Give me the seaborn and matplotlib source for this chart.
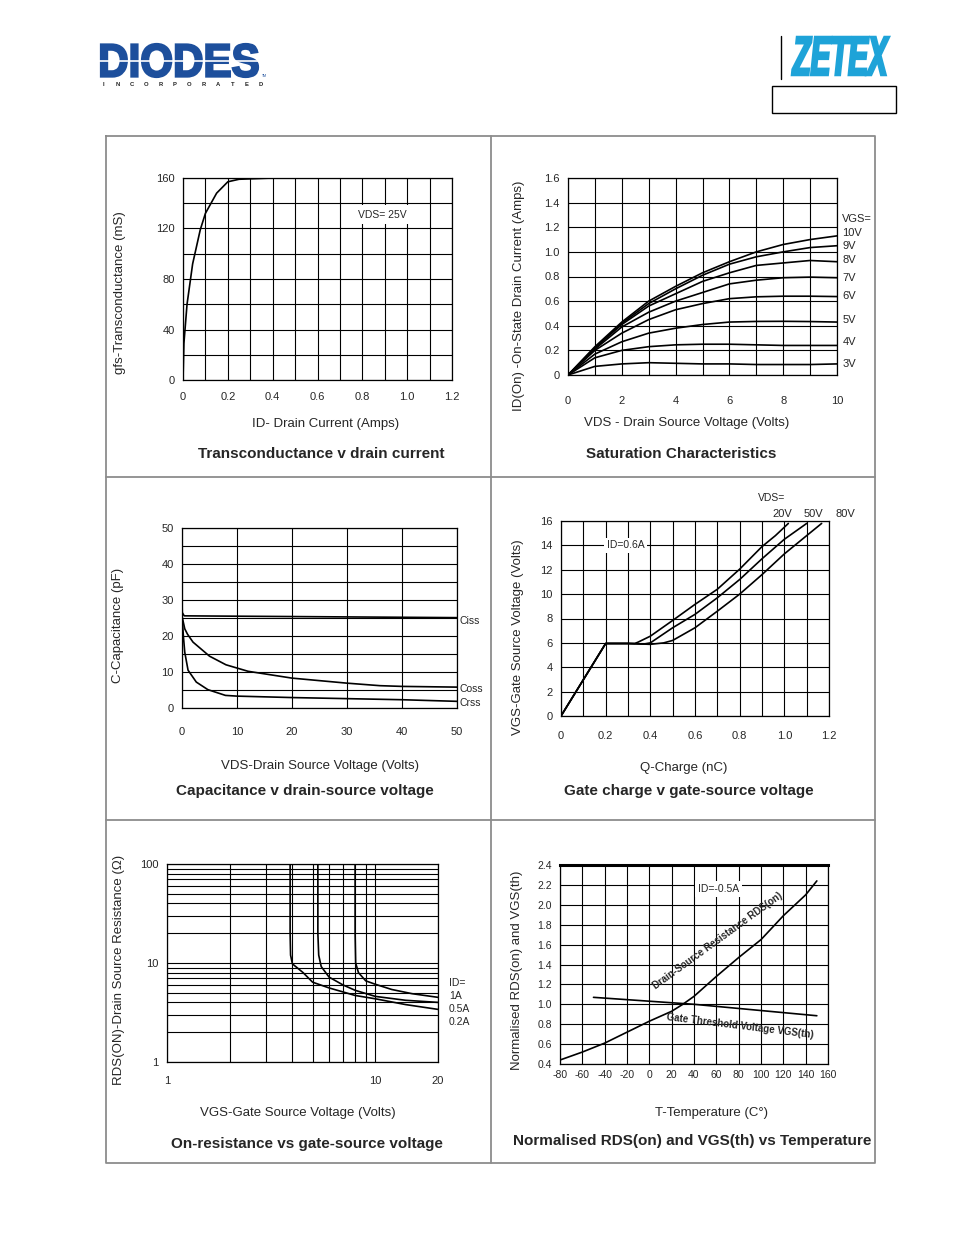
import numpy as np
import pandas as pd
import seaborn as sns
import matplotlib.pyplot as plt
from matplotlib.textpath import TextPath
from matplotlib.patches import PathPatch
from matplotlib.font_manager import FontProperties
from matplotlib.transforms import Affine2D

# ---- data ----
# transconductance vs drain current
gfs_id = [0, 0.004, 0.018, 0.043, 0.077, 0.1, 0.15, 0.2, 0.25, 0.4, 0.6, 0.8, 1.0, 1.2]
gfs_ms = [0, 29, 60, 92, 119, 132, 148, 157, 159, 160, 160, 160, 160, 160]

# saturation characteristics
sat_vds = [0, 1, 2, 3, 4, 5, 6, 7, 8, 9, 10]
sat_names = ["3V", "4V", "5V", "6V", "7V", "8V", "9V", "10V"]
sat_3v = [0, 0.07, 0.09, 0.10, 0.095, 0.09, 0.09, 0.085, 0.085, 0.085, 0.09]
sat_4v = [0, 0.14, 0.20, 0.23, 0.245, 0.25, 0.25, 0.245, 0.24, 0.24, 0.24]
sat_5v = [0, 0.17, 0.27, 0.34, 0.38, 0.41, 0.43, 0.435, 0.436, 0.434, 0.43]
sat_6v = [0, 0.20, 0.34, 0.45, 0.53, 0.58, 0.62, 0.635, 0.64, 0.64, 0.637]
sat_7v = [0, 0.21, 0.39, 0.51, 0.60, 0.67, 0.74, 0.77, 0.79, 0.795, 0.79]
sat_8v = [0, 0.22, 0.41, 0.56, 0.66, 0.76, 0.83, 0.89, 0.91, 0.93, 0.92]
sat_9v = [0, 0.22, 0.42, 0.58, 0.70, 0.81, 0.90, 0.96, 1.00, 1.035, 1.05]
sat_10v = [0, 0.23, 0.43, 0.60, 0.72, 0.83, 0.92, 1.00, 1.06, 1.10, 1.13]
sat_lbl_y = [0.09, 0.27, 0.45, 0.64, 0.79, 0.93, 1.05, 1.15]

# capacitance
ciss_v = [0, 0.05, 0.4, 10, 20, 30, 40, 50]
ciss = [30, 26.5, 25.6, 25.5, 25.4, 25.3, 25.2, 25.1]
coss_v = [0, 0.5, 1, 2, 3, 5, 8, 12, 20, 30, 36, 40, 50]
coss = [25.5, 22, 20.5, 18.3, 17, 14.4, 12, 10.2, 8.3, 6.9, 6.2, 6.0, 5.8]
crss_v = [0, 0.25, 0.5, 1.1, 2.6, 4.7, 7.9, 10, 20, 30, 40, 50]
crss = [25.5, 20, 15.5, 10.5, 7.2, 5.1, 3.5, 3.3, 2.9, 2.6, 2.3, 1.85]

# gate charge
qg_20 = [0, 0.2, 0.33, 0.344, 0.4, 0.5, 0.6, 0.7, 0.8, 0.9, 0.96, 1.018]
vg_20 = [0, 5.95, 5.95, 6.05, 6.55, 7.84, 9.16, 10.4, 12.05, 13.9, 14.8, 15.8]
qg_50 = [0, 0.2, 0.3, 0.37, 0.4, 0.5, 0.6, 0.7, 0.8, 0.9, 1.0, 1.1]
vg_50 = [0, 5.95, 5.95, 5.9, 6.0, 7.24, 8.34, 9.7, 11.2, 12.9, 14.5, 15.8]
qg_80 = [0, 0.2, 0.3, 0.4, 0.46, 0.5, 0.6, 0.7, 0.8, 0.9, 1.0, 1.1, 1.167]
vg_80 = [0, 5.95, 5.95, 5.88, 6.0, 6.2, 7.24, 8.6, 10.0, 11.6, 13.3, 14.8, 15.8]

# on-resistance vs gate-source voltage
ron_vgs_02 = [3.9, 3.9, 3.92, 4.0, 4.5, 5, 6, 7, 8, 10, 14, 20]
ron_02 = [100, 20, 12, 9.8, 8, 6.4, 5.6, 5.1, 4.7, 4.35, 3.8, 3.4]
ron_vgs_05 = [5.3, 5.3, 5.35, 5.5, 6, 7, 8, 10, 14, 20]
ron_05 = [100, 20, 12, 9.2, 7.2, 6.0, 5.3, 4.6, 4.2, 4.0]
ron_vgs_1 = [8, 8, 8.05, 8.3, 9, 10, 12, 15, 20]
ron_1 = [100, 20, 10, 8, 6.6, 6.1, 5.4, 4.9, 4.5]
ron_labels = ["ID=", "1A", "0.5A", "0.2A"]
ron_label_y = [6.28, 4.64, 3.43, 2.54]

# normalised values vs temperature
rds_t = [-80, -60, -40, -20, 0, 20, 30, 40, 60, 80, 100, 120, 140, 150]
rds_n = [0.44, 0.52, 0.61, 0.72, 0.83, 0.93, 1.0, 1.08, 1.28, 1.47, 1.65, 1.89, 2.10, 2.24]
vth_t = [-50, 40, 150]
vth_n = [1.07, 1.0, 0.885]

W, H = 954, 1235
sns.set_style("white")
plt.rcParams['font.family'] = ['Liberation Sans', 'DejaVu Sans']

fig = plt.figure(figsize=(W / 100, H / 100), dpi=100)


def axes_px(x0, y0, x1, y1):
    return fig.add_axes([x0 / W, 1 - y1 / H, (x1 - x0) / W, (y1 - y0) / H])


def ftext(x, y, s, **kw):
    kw.setdefault('ha', 'center')
    kw.setdefault('va', 'center')
    fig.text(x / W, 1 - y / H, s, **kw)


def fline(xs, ys, **kw):
    fig.add_artist(plt.Line2D([x / W for x in xs], [1 - y / H for y in ys], **kw))


def fit_text(s, x0, y0, x1, y1, color, stroke=1.0, **fp):
    # squeeze a word into a pixel box (for the logos)
    path = TextPath((0, 0), s, size=100, prop=FontProperties(**fp))
    ext = path.get_extents()
    tr = (Affine2D().translate(-ext.x0, -ext.y0)
          .scale((x1 - x0) / ext.width / W, (y1 - y0) / ext.height / H)
          .translate(x0 / W, 1 - y1 / H))
    fig.add_artist(PathPatch(path, fc=color, ec=color, lw=stroke, transform=tr + fig.transFigure))


def draw_curves(ax, xs, ys, names):
    frames = [pd.DataFrame({'x': x, 'y': y, 'curve': n}) for x, y, n in zip(xs, ys, names)]
    df = pd.concat(frames, ignore_index=True)
    sns.lineplot(data=df, x='x', y='y', hue='curve', estimator=None, sort=False,
                 palette=['black'] * len(names), legend=False, ax=ax, lw=1.2)
    ax.set_xlabel('')
    ax.set_ylabel('')


def style_grid(ax, xmaj, xlab, ymaj, ylab, xmin, ymin, fs=8, xpad=9, ypad=6):
    ax.set_xticks(xmaj)
    ax.set_xticklabels(xlab, fontsize=fs)
    ax.set_yticks(ymaj)
    ax.set_yticklabels(ylab, fontsize=fs)
    ax.set_xticks(xmin, minor=True)
    ax.set_yticks(ymin, minor=True)
    ax.tick_params(which='both', length=0)
    ax.tick_params(axis='x', pad=xpad)
    ax.tick_params(axis='y', pad=ypad)
    ax.grid(which='both', color='black', lw=0.8)
    ax.set_axisbelow(True)
    for sp in ax.spines.values():
        sp.set_color('black')
        sp.set_linewidth(0.9)


# ---- page frame ----
box_c = '#8c8c8c'
fline([106, 875, 875, 106, 106], [136, 136, 1163, 1163, 136], color=box_c, lw=1.3)
fline([491, 491], [136, 1163], color=box_c, lw=1.3)
fline([106, 875], [477, 477], color=box_c, lw=1.3)
fline([106, 875], [820, 820], color=box_c, lw=1.3)

# ---- logos ----
fit_text("DIODES", 101, 44, 258, 77, '#1d4f9c', stroke=1.6, family='Liberation Sans',
         weight='bold')
fline([98, 262], [61, 61], color='white', lw=1.2)
ftext(264, 76, "TM", fontsize=2.5, color='#1d4f9c')
for ch, xc in zip("INCORPORATED", np.linspace(103, 261, 12)):
    ftext(xc, 84, ch, fontsize=4.2, fontweight='bold', color='#222222')
fline([781, 781], [36, 79], color='black', lw=1.0)
fit_text("ZETEX", 792, 37, 889, 75, '#1ea3d8', stroke=1.8, family='Liberation Sans',
         weight='bold', style='italic')
fig.add_artist(plt.Rectangle((772 / W, 1 - 113 / H), 124 / W, 27 / H, fill=False,
                             ec='black', lw=1.0))

# ---- panel 1: transconductance ----
ax1 = axes_px(183, 178, 452, 380)
draw_curves(ax1, [gfs_id], [gfs_ms], ['gfs'])
ax1.set_xlim(0, 1.2)
ax1.set_ylim(0, 160)
style_grid(ax1, np.linspace(0, 1.2, 7), ['0', '0.2', '0.4', '0.6', '0.8', '1.0', '1.2'],
           [0, 40, 80, 120, 160], ['0', '40', '80', '120', '160'],
           np.linspace(0, 1.2, 13), np.linspace(0, 160, 9))
ax1.text(0.89, 131, "VDS= 25V", fontsize=7.5, ha='center', va='center',
         bbox=dict(fc='white', ec='none', pad=3))
ftext(120, 293, "gfs-Transconductance (mS)", fontsize=9.5, rotation=90)
ftext(326, 424, "ID- Drain Current (Amps)", fontsize=9.5)
ftext(321, 454, "Transconductance v drain current", fontsize=11, fontweight='bold')

# ---- panel 2: saturation ----
ax2 = axes_px(568, 178, 837, 375)
draw_curves(ax2, [sat_vds] * 8,
            [sat_3v, sat_4v, sat_5v, sat_6v, sat_7v, sat_8v, sat_9v, sat_10v], sat_names)
ax2.set_xlim(0, 10)
ax2.set_ylim(0, 1.6)
style_grid(ax2, [0, 2, 4, 6, 8, 10], ['0', '2', '4', '6', '8', '10'],
           np.linspace(0, 1.6, 9), ['0', '0.2', '0.4', '0.6', '0.8', '1.0', '1.2', '1.4', '1.6'],
           np.linspace(0, 10, 11), np.linspace(0, 1.6, 9), xpad=15)
for name, yv in zip(sat_names, sat_lbl_y):
    ax2.text(10.2, yv, name, fontsize=8, ha='left', va='center', clip_on=False)
ax2.text(10.2, 1.27, "VGS=", fontsize=8, ha='left', va='center', clip_on=False)
ftext(519, 296, "ID(On) -On-State Drain Current (Amps)", fontsize=9.5, rotation=90)
ftext(687, 423, "VDS - Drain Source Voltage (Volts)", fontsize=9.5)
ftext(681, 454, "Saturation Characteristics", fontsize=11, fontweight='bold')

# ---- panel 3: capacitance ----
ax3 = axes_px(182, 528, 457, 708)
draw_curves(ax3, [ciss_v, coss_v, crss_v], [ciss, coss, crss], ['Ciss', 'Coss', 'Crss'])
ax3.set_xlim(0, 50)
ax3.set_ylim(0, 50)
style_grid(ax3, [0, 10, 20, 30, 40, 50], ['0', '10', '20', '30', '40', '50'],
           [0, 10, 20, 30, 40, 50], ['0', '10', '20', '30', '40', '50'],
           [0, 10, 20, 30, 40, 50], np.linspace(0, 50, 11), xpad=14)
ax3.text(50.5, 24.2, "Ciss", fontsize=7.5, ha='left', va='center', clip_on=False)
ax3.text(50.5, 5.3, "Coss", fontsize=7.5, ha='left', va='center', clip_on=False)
ax3.text(50.5, 1.4, "Crss", fontsize=7.5, ha='left', va='center', clip_on=False)
ftext(118, 625, "C-Capacitance (pF)", fontsize=9.5, rotation=90)
ftext(320, 766, "VDS-Drain Source Voltage (Volts)", fontsize=9.5)
ftext(305, 791, "Capacitance v drain-source voltage", fontsize=11, fontweight='bold')

# ---- panel 4: gate charge ----
ax4 = axes_px(561, 521, 829, 716)
draw_curves(ax4, [qg_20, qg_50, qg_80], [vg_20, vg_50, vg_80], ['20V', '50V', '80V'])
ax4.set_xlim(0, 1.2)
ax4.set_ylim(0, 16)
style_grid(ax4, np.linspace(0, 1.2, 7), ['0', '0.2', '0.4', '0.6', '0.8', '1.0', '1.2'],
           np.linspace(0, 16, 9), ['0', '2', '4', '6', '8', '10', '12', '14', '16'],
           np.linspace(0, 1.2, 13), np.linspace(0, 16, 9), xpad=11)
ax4.text(0.29, 14.0, "ID=0.6A", fontsize=7.5, ha='center', va='center',
         bbox=dict(fc='white', ec='none', pad=2))
ftext(772, 498, "VDS=", fontsize=7.5)
ftext(782, 514, "20V", fontsize=8)
ftext(813, 514, "50V", fontsize=8)
ftext(845, 514, "80V", fontsize=8)
ftext(518, 637, "VGS-Gate Source Voltage (Volts)", fontsize=9.5, rotation=90)
ftext(684, 768, "Q-Charge (nC)", fontsize=9.5)
ftext(689, 791, "Gate charge v gate-source voltage", fontsize=11, fontweight='bold')

# ---- panel 5: on-resistance ----
ax5 = axes_px(167, 864, 438, 1062)
ax5.set_xscale('log')
ax5.set_yscale('log')
draw_curves(ax5, [ron_vgs_02, ron_vgs_05, ron_vgs_1], [ron_02, ron_05, ron_1],
            ['0.2A', '0.5A', '1A'])
ax5.set_xlim(1, 20)
ax5.set_ylim(1, 100)
style_grid(ax5, [1, 10, 20], ['1', '10', '20'], [1, 10, 100], ['1', '10', '100'],
           list(range(1, 11)) + [20],
           list(range(1, 10)) + list(range(10, 101, 10)), xpad=10)
for lbl, yv in zip(ron_labels, ron_label_y):
    ax5.text(22.6, yv, lbl, fontsize=7.5, ha='left', va='center', clip_on=False)
ftext(119, 970, "RDS(ON)-Drain Source Resistance (Ω)", fontsize=9.5, rotation=90)
ftext(298, 1113, "VGS-Gate Source Voltage (Volts)", fontsize=9.5)
ftext(307, 1144, "On-resistance vs gate-source voltage", fontsize=11, fontweight='bold')

# ---- panel 6: temperature ----
ax6 = axes_px(560, 865, 828, 1064)
draw_curves(ax6, [rds_t, vth_t], [rds_n, vth_n], ['rds', 'vth'])
ax6.set_xlim(-80, 160)
ax6.set_ylim(0.4, 2.4)
style_grid(ax6, np.arange(-80, 161, 20), [str(v) for v in range(-80, 161, 20)],
           np.linspace(0.4, 2.4, 11),
           ['0.4', '0.6', '0.8', '1.0', '1.2', '1.4', '1.6', '1.8', '2.0', '2.2', '2.4'],
           np.arange(-80, 161, 20), np.linspace(0.4, 2.4, 11), fs=7.5, xpad=4)
ax6.spines['top'].set_linewidth(2.2)
ax6.text(62, 2.16, "ID=-0.5A", fontsize=7.5, ha='center', va='center',
         bbox=dict(fc='white', ec='none', pad=2))
ax6.text(61, 1.64, "Drain-Source Resistance RDS(on)", fontsize=7, fontweight='bold',
         rotation=36, ha='center', va='center')
ax6.text(81, 0.78, "Gate Threshold Voltage VGS(th)", fontsize=7, fontweight='bold',
         rotation=-7, ha='center', va='center')
ftext(517, 970, "Normalised RDS(on) and VGS(th)", fontsize=9.5, rotation=90)
ftext(712, 1113, "T-Temperature (C°)", fontsize=9.5)
ftext(692, 1141, "Normalised RDS(on) and VGS(th) vs Temperature", fontsize=11, fontweight='bold')

fig.savefig('out.png', dpi=100)
